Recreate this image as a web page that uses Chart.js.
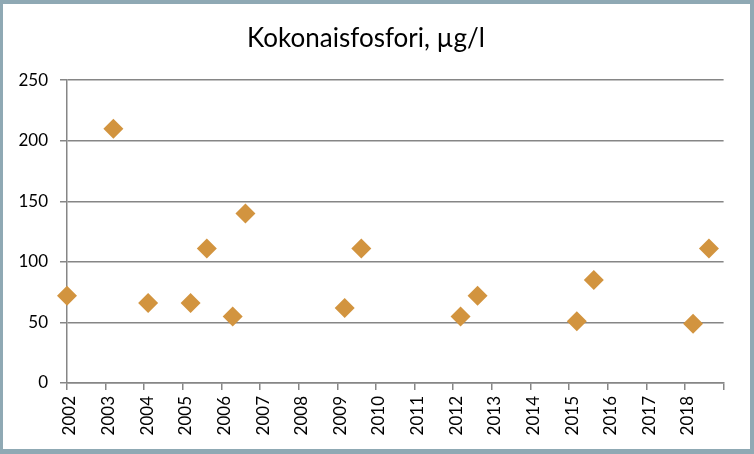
<!DOCTYPE html>
<html>
<head>
<meta charset="utf-8">
<script src="https://cdn.jsdelivr.net/npm/chart.js@4"></script>
<style>
  html, body { margin: 0; padding: 0; }
  body { width: 754px; height: 454px; background: #8FA9B4; position: relative; overflow: hidden; }
  #wrap { position: absolute; left: 3px; top: 4px; width: 747px; height: 445px; background: #ffffff; }
  canvas { display: block; }
</style>
</head>
<body>
<div id="wrap"><canvas id="c" width="747" height="445"></canvas></div>
<script>
const chartTitle = 'Kokonaisfosfori, µg/l';
// sampling dates as decimal years
const sampleYears = [2002.0, 2003.2, 2004.1, 2005.2, 2005.62, 2006.29, 2006.62, 2009.19, 2009.62, 2012.19, 2012.63, 2015.2, 2015.64, 2018.21, 2018.62];
// total phosphorus, µg/l
const phosphorus = [72, 210, 66, 66, 111, 55, 140, 62, 111, 55, 72, 51, 85, 49, 111];
const xMin = 2002, xMax = 2019;
const yTicks = [0, 50, 100, 150, 200, 250];

const points = sampleYears.map((x, i) => ({ x: x, y: phosphorus[i] }));
const FONT = 'Lato, "Open Sans", sans-serif';
const GRID = '#868686';

new Chart(document.getElementById('c'), {
  type: 'scatter',
  data: {
    datasets: [{
      data: points,
      pointStyle: 'rectRot',
      pointRadius: 10,
      pointHoverRadius: 10,
      backgroundColor: '#D2943F',
      borderColor: '#D2943F',
      borderWidth: 0,
      clip: false
    }]
  },
  options: {
    responsive: false,
    animation: false,
    layout: { padding: { left: 0, right: 21, top: 0, bottom: 0 } },
    plugins: {
      legend: { display: false },
      tooltip: { enabled: false },
      title: {
        display: true,
        text: chartTitle,
        color: '#000000',
        font: { family: FONT, size: 26, weight: 'normal', lineHeight: 1.2 },
        padding: { top: 19, bottom: 26 }
      }
    },
    scales: {
      x: {
        type: 'linear',
        min: xMin,
        max: xMax,
        afterFit: s => { s.height = 66; },
        afterBuildTicks: s => { s.ticks = []; for (let v = xMin; v <= xMax; v++) s.ticks.push({ value: v }); },
        ticks: {
          stepSize: 1,
          autoSkip: false,
          minRotation: 90,
          maxRotation: 90,
          padding: 6,
          labelOffset: 3,
          color: '#000000',
          font: { family: FONT, size: 17 },
          callback: v => (v === xMax ? '' : String(v))
        },
        grid: { drawOnChartArea: false, drawTicks: true, tickLength: 7, color: GRID, lineWidth: 1.5 },
        border: { display: true, color: GRID, width: 1.5 }
      },
      y: {
        min: 0,
        max: 250,
        afterFit: s => { s.width = 64; },
        afterBuildTicks: s => { s.ticks = yTicks.map(v => ({ value: v })); },
        ticks: {
          stepSize: 50,
          padding: 12,
          color: '#000000',
          font: { family: FONT, size: 17 },
          callback: v => String(v)
        },
        grid: { drawOnChartArea: true, drawTicks: true, tickLength: 7, color: GRID, lineWidth: 1.5 },
        border: { display: true, color: GRID, width: 1.5 }
      }
    }
  }
});
</script>
</body>
</html>
